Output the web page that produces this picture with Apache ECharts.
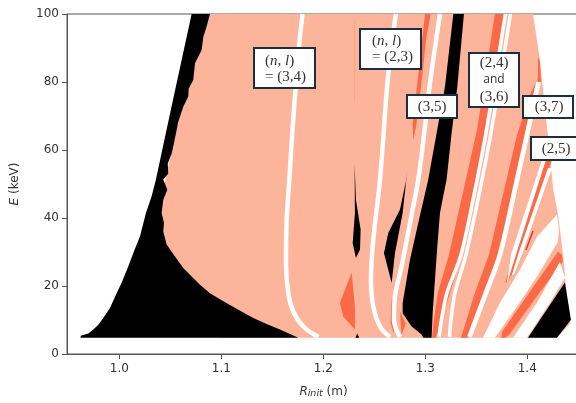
<!DOCTYPE html>
<html><head><meta charset="utf-8">
<script src="https://cdn.jsdelivr.net/npm/echarts@6/dist/echarts.min.js"></script>
<style>html,body{margin:0;padding:0;background:#fff}#c{width:576px;height:403px}</style>
</head><body><div id="c"></div>
<script>
// ---- values: [R_init (m), E (keV)] ----
const xTicks = [1.0, 1.1, 1.2, 1.3, 1.4];
const salmonEnvelope = [[1.08,100],[1.4056,100],[1.4124,86.5],[1.419,67.8],[1.4239,53.1],[1.4255,48.3],[1.4304,40.5],[1.4353,28.7],[1.4376,20.9],[1.4425,9.1],[1.4291,4.8],[1.1,4.8],[1.03,30]];
const blackLeft = [[1.0709,100],[1.0526,74.7],[1.0428,61],[1.0359,51.3],[1.0317,46.4],[1.0261,41.5],[1.0203,34.6],[1.0144,30.2],[1.0088,25.8],[1.0029,21.4],[0.9974,17.9],[0.9908,13.5],[0.9843,10.6],[0.9794,8.6],[0.9745,7.2],[0.9696,6],[0.9621,5.4],[0.9621,4.8],[1.1755,4.8],[1.1575,7.2],[1.1444,8.8],[1.1314,10.6],[1.1167,13],[1.102,15.5],[1.0889,17.9],[1.0791,20.4],[1.0709,22.8],[1.0627,25.3],[1.0546,28.7],[1.0464,32.2],[1.0431,36],[1.0438,38.5],[1.0415,41.5],[1.0431,45.4],[1.0471,48.3],[1.0431,51.3],[1.048,53.1],[1.0475,56],[1.0513,59],[1.0529,61],[1.0562,65.9],[1.0575,68],[1.0627,72.7],[1.0676,75.7],[1.068,78],[1.0725,80.6],[1.0742,85.5],[1.0807,89.4],[1.0824,93.3],[1.0856,96.3],[1.0889,100]];
const blackBand = [[1.3275,100],[1.3193,78.6],[1.3111,64.9],[1.3029,51.3],[1.2931,38.5],[1.285,27.7],[1.2778,15],[1.2778,12],[1.2866,8.1],[1.2964,5.7],[1.298,4.8],[1.3062,4.8],[1.3072,12],[1.3095,21.9],[1.3118,31.7],[1.3144,41.5],[1.3176,46.4],[1.3209,51.3],[1.3258,64.9],[1.3314,78.6],[1.3379,100]];
const blackRight = [[1.4007,4.8],[1.4369,21],[1.4428,10.1],[1.4291,4.8]];
const blackSliver1 = [[1.2307,56],[1.232,45.4],[1.2366,36.6],[1.236,30.7],[1.232,28.2],[1.2288,32.6],[1.231,41.5]];
const blackSliver2 = [[1.2824,54.1],[1.2778,41.5],[1.2703,29.7],[1.267,20.9],[1.2595,29.7],[1.2637,35.6],[1.2752,42.5],[1.281,50.8]];
const blackDot = [[1.2315,4.8],[1.2333,6],[1.2352,4.8]];
const orangeBlob = [[1.2278,24],[1.2163,15],[1.2196,11],[1.231,7.2],[1.231,14]];
const orangeTop = [[1.2997,100],[1.3052,100],[1.3007,92.3],[1.298,84.5],[1.2915,67.8],[1.2882,62.9],[1.2876,67.8],[1.2941,84.5]];
const orangeLow1 = [[1.267,16],[1.266,9.1],[1.269,6],[1.2698,16]];
const orangeLow2 = [[1.2752,12.5],[1.2807,9],[1.2768,5.5]];
const orange1 = [[1.3683,100],[1.3507,65.9],[1.3232,29.2],[1.3124,18],[1.3085,10.1],[1.3066,4.8],[1.3105,4.8],[1.3164,10.1],[1.3242,18],[1.336,29.2],[1.3605,65.9],[1.3781,100]];
const orange2 = [[1.4105,81.2],[1.4026,76.2],[1.3899,64.4],[1.3624,29.2],[1.3487,18],[1.335,4.8],[1.3418,4.8],[1.3585,18],[1.3732,29.2],[1.3997,64.4]];
const orangeEdge = [[1.4105,87.4],[1.4124,86],[1.4134,80],[1.4105,80]];
const orangeStrip = [[1.3755,6.6],[1.4005,17.4],[1.4301,30.1],[1.434,29.2],[1.435,27.1],[1.4105,17.4],[1.3825,5.7],[1.3785,4.8],[1.3745,4.8]];
const orangeThin = [[1.4183,57.1],[1.4242,57.1],[1.3929,27.7],[1.3801,21],[1.3785,21],[1.385,27.7]];
const wedgeA = [[1.3565,4.8],[1.3732,15.1],[1.3929,24.8],[1.4095,34.5],[1.4291,41],[1.4311,36.5],[1.4301,33],[1.4095,22.7],[1.3899,13.9],[1.3683,4.8]];
const wedgeB = [[1.386,4.8],[1.4095,15.1],[1.432,27.1],[1.4369,22.4],[1.4222,15.1],[1.3997,4.8]];
const thin1 = [[1.4144,57.1],[1.4183,57.1],[1.3889,29.2],[1.3805,21],[1.3801,21],[1.384,29.2]];
const thin2 = [[1.4203,54.7],[1.4242,54.7],[1.3948,29.2],[1.387,23.3],[1.385,23.3],[1.3909,29.2]];
const line34 = [[1.1797,100],[1.1765,91.4],[1.1722,75.7],[1.1689,61.9],[1.1667,51.3],[1.1641,39.5],[1.1634,26.8],[1.1657,17.9],[1.1706,12.5],[1.1804,8.1],[1.1951,5]];
const line23 = [[1.2712,100],[1.2637,82.5],[1.2556,51.2],[1.249,33.6],[1.2467,21.9],[1.249,14],[1.2556,8.1],[1.2654,5]];
const line35 = [[1.3144,100],[1.3046,79.6],[1.2997,66.8],[1.2931,51.3],[1.285,38.5],[1.2768,25.8],[1.2703,17],[1.2693,10.1],[1.2752,5]];
const line24 = [[1.3786,100],[1.36,65.9],[1.3468,45.3],[1.335,29.2],[1.3213,18],[1.3159,10.1],[1.3134,5]];
const line36 = [[1.3835,100],[1.3649,65.9],[1.3516,45.3],[1.3399,29.2],[1.3291,18],[1.3252,10.1],[1.3237,5]];
const line37 = [[1.411,80],[1.3997,64.4],[1.3899,51.2],[1.3732,29.2],[1.3595,18],[1.3433,5]];
const redTrace = [[1.4056,36.2],[1.3987,30.6]];
const faintTrace = [[1.2307,98],[1.2307,74]];

const SALMON='#fcb49b', ORANGE='#fb6a47', BLACK='#000', WHITE='#fff';
const layers = [
  {name:'envelope',pts:salmonEnvelope,color:SALMON},
  {name:'faint',pts:faintTrace,color:'#f7a68c',width:1},
  {name:'orangeBlob',pts:orangeBlob,color:ORANGE},
  {name:'orangeTop',pts:orangeTop,color:ORANGE},
  {name:'orangeLow1',pts:orangeLow1,color:ORANGE},
  {name:'orangeLow2',pts:orangeLow2,color:ORANGE},
  {name:'orange1',pts:orange1,color:ORANGE},
  {name:'orange2',pts:orange2,color:ORANGE},
  {name:'orangeEdge',pts:orangeEdge,color:ORANGE},
  {name:'orangeStrip',pts:orangeStrip,color:ORANGE},
  {name:'orangeThin',pts:orangeThin,color:ORANGE},
  {name:'red',pts:redTrace,color:'#d8402c',width:1.5},
  {name:'blackLeft',pts:blackLeft,color:BLACK},
  {name:'blackBand',pts:blackBand,color:BLACK},
  {name:'blackRight',pts:blackRight,color:BLACK},
  {name:'sliver1',pts:blackSliver1,color:BLACK},
  {name:'sliver2',pts:blackSliver2,color:BLACK},
  {name:'dot',pts:blackDot,color:BLACK},
  {name:'wedgeA',pts:wedgeA,color:WHITE},
  {name:'wedgeB',pts:wedgeB,color:WHITE},
  {name:'thin1',pts:thin1,color:WHITE},
  {name:'thin2',pts:thin2,color:WHITE},
  {name:'(3,4)',pts:line34,color:WHITE,width:4.5,smooth:0.35},
  {name:'(2,3)',pts:line23,color:WHITE,width:4.5,smooth:0.35},
  {name:'(3,5)',pts:line35,color:WHITE,width:4.5,smooth:0.35},
  {name:'(2,4)',pts:line24,color:WHITE,width:3.6,smooth:0.3},
  {name:'(3,6)',pts:line36,color:WHITE,width:3.6,smooth:0.3},
  {name:'(3,7)',pts:line37,color:WHITE,width:4.8,smooth:0.3}
];
const series = layers.map(l => l.width
  ? {type:'line',name:l.name,data:l.pts,showSymbol:false,silent:true,animation:false,clip:true,smooth:l.smooth||false,
     lineStyle:{color:l.color,width:l.width,cap:'butt',join:'round'}}
  : {type:'custom',name:l.name,data:l.pts,silent:true,animation:false,clip:true,encode:{x:0,y:1},
     renderItem:(p,api)=>p.dataIndex===0?{type:'polygon',shape:{points:l.pts.map(q=>api.coord(q))},style:{fill:l.color}}:null});

// annotation boxes
const SERIF='"Liberation Serif",serif', BOXC='#1d2f3c';
const mathRich={i:{fontStyle:'italic',fontFamily:SERIF,fontSize:15,fill:'#333',lineHeight:16},t:{fontFamily:SERIF,fontSize:15,fill:'#333',lineHeight:16}};
function box(x,y,w,h){return {type:'rect',z:100,shape:{x,y,width:w,height:h},style:{fill:'#fff',stroke:BOXC,lineWidth:2}};}
function txt(x,y,t,align,extra){return {type:'text',z:101,x,y,style:Object.assign({text:t,fontFamily:SERIF,fontSize:15,fill:'#333',align:align||'center',verticalAlign:'middle',rich:mathRich},extra||{})};}
const graphic=[
  box(254,48,61,40),txt(265,61,'{t|(}{i|n}{t|, }{i|l}{t|)}','left'),txt(265,77,'= (3,4)','left'),
  box(360,29,61,40),txt(372,41,'{t|(}{i|n}{t|, }{i|l}{t|)}','left'),txt(372,57,'= (2,3)','left'),
  box(407,95,50,23),txt(432,107,'(3,5)'),
  box(469,53,50,54),txt(494,63,'(2,4)'),txt(494,80,'and','center',{fontFamily:'"Open Sans",sans-serif',fontSize:12}),txt(494,97,'(3,6)'),
  box(523,96,50,22),txt(549,107,'(3,7)'),
  box(531,137,50,23),txt(556,149,'(2,5)')
];

const SANS='"DejaVu Sans",sans-serif', AX='#555', TXT='#333';
const chart=echarts.init(document.getElementById('c'),null,{renderer:'canvas'});
chart.setOption({
  animation:false,backgroundColor:'#fff',
  grid:{left:67,top:14,width:513,height:340,show:true,borderColor:AX,borderWidth:1,backgroundColor:'transparent',containLabel:false,outerBoundsMode:'none'},
  xAxis:{type:'value',min:0.9487,max:1.4517,splitLine:{show:false},
    axisLine:{show:true,onZero:false,lineStyle:{color:AX,width:1}},
    axisTick:{show:true,length:5,customValues:xTicks,lineStyle:{color:AX}},
    axisLabel:{fontFamily:SANS,fontSize:12,color:TXT,margin:9,customValues:xTicks,formatter:v=>v.toFixed(1)},
    name:'{i|R}{s|init}{n| (m)}',nameLocation:'middle',nameGap:30,
    nameTextStyle:{rich:{i:{fontFamily:SANS,fontStyle:'italic',fontSize:12,color:TXT},s:{fontFamily:SANS,fontStyle:'italic',fontSize:9.5,color:TXT,verticalAlign:'bottom',padding:[5,0,0,0]},n:{fontFamily:SANS,fontSize:12,color:TXT}}}},
  yAxis:{type:'value',min:0,max:100,interval:20,splitLine:{show:false},
    axisLine:{show:true,onZero:false,lineStyle:{color:AX,width:1}},
    axisTick:{show:true,length:5,lineStyle:{color:AX}},
    axisLabel:{fontFamily:SANS,fontSize:12,color:TXT,margin:8},
    name:'{i|E}{n| (keV)}',nameLocation:'middle',nameGap:46,
    nameTextStyle:{rich:{i:{fontFamily:SANS,fontStyle:'italic',fontSize:12,color:TXT},n:{fontFamily:SANS,fontSize:12,color:TXT}}}},
  series,graphic
});
</script></body></html>
